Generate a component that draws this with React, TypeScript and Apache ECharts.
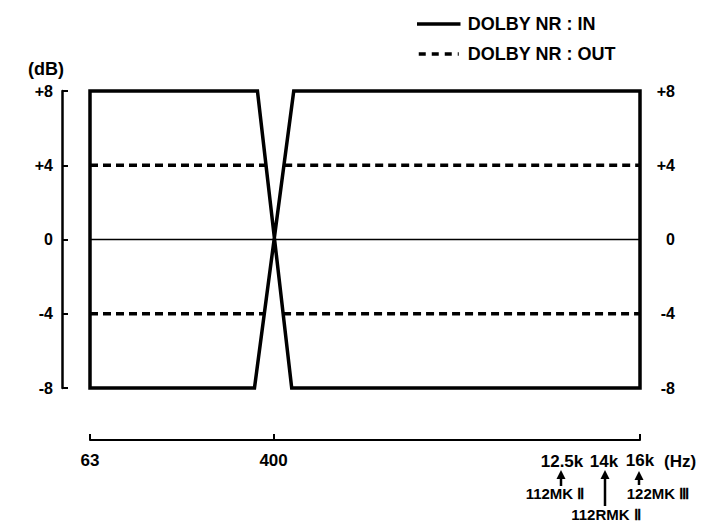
import React, { useEffect, useRef } from "react";
import * as echarts from "echarts";

// DOLBY NR : IN — closed bow-tie outline (frequency in Hz, level in dB)
const IN_FREQ = [63, 340, 480, 16000, 16000, 490, 330, 63, 63];
const IN_DB = [8, 8, -8, -8, 8, 8, -8, -8, 8];

// DOLBY NR : OUT — +4 dB and -4 dB lines, interrupted between the IN slopes
const OUT_UPPER_FREQ = [63, 370, 400, 445, 16000];
const OUT_UPPER_DB: (number | string)[] = [4, 4, "-", 4, 4];
const OUT_LOWER_FREQ = [63, 365, 400, 440, 16000];
const OUT_LOWER_DB: (number | string)[] = [-4, -4, "-", -4, -4];

// 0 dB reference line
const ZERO_FREQ = [63, 16000];
const ZERO_DB = [0, 0];

const X_TICKS = [63, 400, 16000];
const X_TICK_LABELS = ["63", "400", "16k"];

const FONT = "'Liberation Sans', Arial, Helvetica, sans-serif";

const zip = (xs: number[], ys: (number | string)[]) => xs.map((x, i) => [x, ys[i]]);

function arrow(x: number, tip: number, base: number, end: number) {
  return [
    {
      type: "polygon",
      shape: { points: [[x, tip], [x - 4.5, base], [x + 4.5, base]] },
      style: { fill: "#000" },
    },
    {
      type: "line",
      shape: { x1: x, y1: base - 1, x2: x, y2: end },
      style: { stroke: "#000", lineWidth: 2.5 },
    },
  ];
}

export default function App() {
  const ref = useRef<HTMLDivElement>(null);
  useEffect(() => {
    if (!ref.current) return;
    const chart = echarts.init(ref.current, null, { renderer: "svg" });
    const labelStyle = { color: "#000", fontFamily: FONT, fontWeight: "bold" as const };
    const txt = (text: string, x: number, y: number, size: number, align = "center") => ({
      type: "text",
      x,
      y,
      style: { text, ...labelStyle, fill: "#000", fontSize: size, align, verticalAlign: "middle" },
    });
    chart.setOption({
      animation: false,
      backgroundColor: "#fff",
      textStyle: { fontFamily: FONT },
      grid: { left: 90, right: 69, top: 91, bottom: 135 },
      legend: {
        orient: "vertical",
        left: 412,
        top: 10,
        itemWidth: 40,
        itemHeight: 14,
        itemGap: 12,
        selectedMode: false,
        itemStyle: { color: "rgba(0,0,0,0)", borderColor: "rgba(0,0,0,0)", borderWidth: 0 },
        textStyle: { ...labelStyle, fontSize: 18, padding: [0, 0, 0, 4] },
        data: [
          { name: "DOLBY NR : IN", lineStyle: { width: 3.5, type: "solid", color: "#000" } },
          { name: "DOLBY NR : OUT", lineStyle: { width: 3.5, type: [7, 6], color: "#000" } },
        ],
      },
      xAxis: {
        type: "log",
        min: 63,
        max: 16000,
        position: "bottom",
        offset: 52,
        axisLine: { show: true, onZero: false, lineStyle: { color: "#000", width: 2 } },
        axisTick: {
          show: true,
          inside: true,
          length: 6,
          lineStyle: { color: "#000", width: 2 },
          customValues: X_TICKS,
        },
        axisLabel: {
          ...labelStyle,
          fontSize: 17,
          margin: 12,
          customValues: X_TICKS,
          formatter: (v: number) => {
            const i = X_TICKS.findIndex((t) => Math.abs(t - v) / t < 1e-3);
            return i >= 0 ? X_TICK_LABELS[i] : "";
          },
        },
        splitLine: { show: false },
        minorTick: { show: false },
      },
      yAxis: [
        {
          type: "value",
          min: -8,
          max: 8,
          interval: 4,
          position: "left",
          offset: 28,
          axisLine: { show: true, onZero: false, lineStyle: { color: "#000", width: 2.5 } },
          axisTick: { show: true, inside: true, length: 6, lineStyle: { color: "#000", width: 2 } },
          axisLabel: {
            ...labelStyle,
            fontSize: 16,
            margin: 9,
            formatter: (v: number) => (v > 0 ? "+" + v : String(v)),
          },
          splitLine: { show: false },
        },
        {
          type: "value",
          min: -8,
          max: 8,
          interval: 4,
          position: "right",
          axisLine: { show: false },
          axisTick: { show: false },
          axisLabel: {
            ...labelStyle,
            fontSize: 16,
            margin: 35,
            align: "right",
            formatter: (v: number) => (v > 0 ? "+" + v : String(v)),
          },
          splitLine: { show: false },
        },
      ],
      series: [
        {
          name: "0 dB",
          type: "line",
          data: zip(ZERO_FREQ, ZERO_DB),
          symbol: "none",
          clip: false,
          lineStyle: { color: "#000", width: 1.5 },
          silent: true,
        },
        {
          name: "DOLBY NR : OUT",
          type: "line",
          data: zip(OUT_UPPER_FREQ, OUT_UPPER_DB),
          symbol: "none",
          clip: false,
          connectNulls: false,
          lineStyle: { color: "#000", width: 3.5, type: [8, 5], cap: "butt" },
        },
        {
          name: "DOLBY NR : OUT",
          type: "line",
          data: zip(OUT_LOWER_FREQ, OUT_LOWER_DB),
          symbol: "none",
          clip: false,
          connectNulls: false,
          lineStyle: { color: "#000", width: 3.5, type: [8, 5], cap: "butt" },
        },
        {
          name: "DOLBY NR : IN",
          type: "line",
          data: zip(IN_FREQ, IN_DB),
          symbol: "none",
          clip: false,
          lineStyle: { color: "#000", width: 3.5, join: "miter", cap: "square" },
        },
      ],
      graphic: [
        txt("(dB)", 46, 69, 18),
        txt("12.5k", 562, 461, 17),
        txt("14k", 604, 461, 17),
        txt("(Hz)", 664, 461, 17, "left"),
        ...arrow(561, 470, 479, 486),
        ...arrow(605, 470, 479, 506),
        ...arrow(639, 471, 480, 485),
        txt("112MK Ⅱ", 555, 493, 15),
        txt("122MK Ⅲ", 658, 493, 15),
        txt("112RMK Ⅱ", 606, 514, 15),
      ],
    });
    return () => chart.dispose();
  }, []);
  return (
    <div
      ref={ref}
      style={{ position: "fixed", left: 0, top: 0, width: 709, height: 523, background: "#fff" }}
    />
  );
}
